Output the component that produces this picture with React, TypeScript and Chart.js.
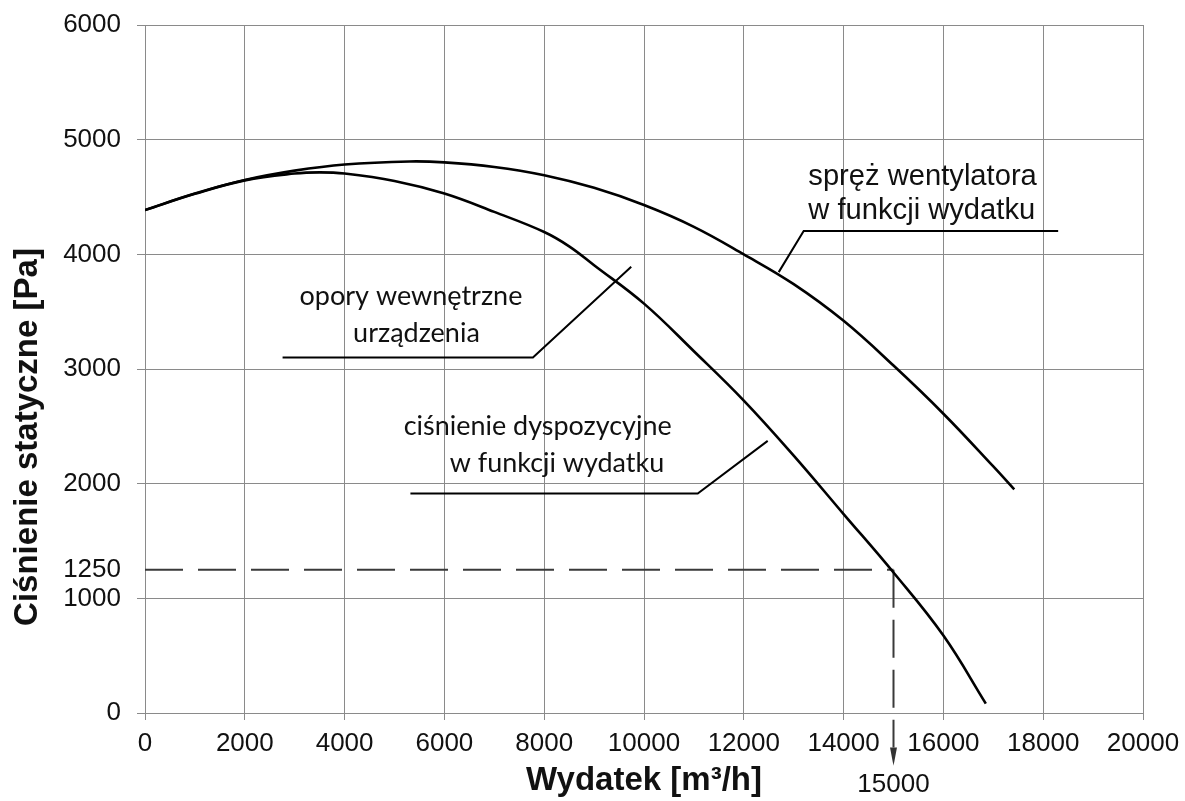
import React, { useEffect, useRef } from "react";
import { Chart, registerables } from "chart.js";
Chart.register(...registerables);

// Fan static pressure vs. flow (spręż wentylatora)
const fanFlow = [0, 1000, 2000, 3000, 4000, 5300, 6000, 7000, 8000, 9000, 10000, 11000, 12000, 13000, 14000, 15000, 16000, 17000, 17420];
const fanPressure = [4386, 4530, 4648, 4730, 4784, 4810, 4802, 4762, 4690, 4580, 4430, 4240, 4000, 3740, 3420, 3030, 2610, 2150, 1950];

// Available pressure vs. flow (ciśnienie dyspozycyjne)
const dispFlow = [0, 1000, 2000, 3000, 3500, 4000, 5000, 6000, 7000, 8000, 8500, 9000, 10000, 11000, 12000, 13000, 14000, 15000, 16000, 16850];
const dispPressure = [4386, 4528, 4645, 4705, 4715, 4705, 4640, 4530, 4370, 4195, 4070, 3905, 3570, 3155, 2725, 2245, 1735, 1225, 675, 82];

// Operating point
const opFlow = 15000;
const opPressure = 1250;

const yTicks = [0, 1000, 1250, 2000, 3000, 4000, 5000, 6000];
const xMin = 0, xMax = 20000, xStep = 2000;

const xTitle = "Wydatek [m³/h]";
const yTitle = "Ciśnienie statyczne [Pa]";

const fanLabel = ["spręż wentylatora", "w funkcji wydatku"];
const oporyLabel = ["opory wewnętrzne", "urządzenia"];
const dispLabel = ["ciśnienie dyspozycyjne", "w funkcji wydatku"];

const TXT = "#111111";
const GRID = "#8a8a8a";
const ARIAL = "'Liberation Sans', Arial, sans-serif";

function fitSize(ctx: CanvasRenderingContext2D, text: string, family: string, weight: string, target: number) {
  ctx.font = `${weight} 20px ${family}`;
  const w = ctx.measureText(text).width;
  return (20 * target) / w;
}

const annotPlugin = {
  id: "annot",
  afterDraw(chart: any) {
    const { ctx, scales } = chart;
    const xs = scales.x, ys = scales.y;
    const X = (v: number) => xs.getPixelForValue(v);
    const Y = (v: number) => ys.getPixelForValue(v);
    ctx.save();

    // arrow head on operating flow
    const ax = X(opFlow);
    ctx.fillStyle = "#333";
    ctx.beginPath();
    ctx.moveTo(ax - 3.5, Y(-300));
    ctx.lineTo(ax + 3.5, Y(-300));
    ctx.lineTo(ax, Y(-460));
    ctx.closePath();
    ctx.fill();

    // operating flow label
    ctx.fillStyle = TXT;
    ctx.font = `26px ${ARIAL}`;
    ctx.textAlign = "center";
    ctx.textBaseline = "middle";
    ctx.fillText(String(opFlow), ax, Y(-630));

    // leader lines
    ctx.strokeStyle = "#000";
    ctx.lineWidth = 2;
    const poly = (pts: number[][]) => {
      ctx.beginPath();
      pts.forEach((p, i) => (i ? ctx.lineTo(X(p[0]), Y(p[1])) : ctx.moveTo(X(p[0]), Y(p[1]))));
      ctx.stroke();
    };
    poly([[18300, 4203], [13200, 4203], [12700, 3845]]);
    poly([[2757, 3101], [7774, 3101], [9744, 3891]]);
    poly([[5319, 1914], [11077, 1914], [12479, 2373]]);

    // fan label (Arial-like)
    let s = fitSize(ctx, fanLabel[1], ARIAL, "normal", 227);
    ctx.font = `normal ${s}px ${ARIAL}`;
    ctx.textAlign = "left";
    ctx.textBaseline = "alphabetic";
    ctx.fillText(fanLabel[0], X(13293), Y(4604));
    ctx.fillText(fanLabel[1], X(13293), Y(4307));

    // Calibri-like labels
    const cal = "Lato, 'Open Sans', sans-serif";
    s = fitSize(ctx, oporyLabel[0], cal, "normal", 223);
    ctx.font = `normal ${s}px ${cal}`;
    ctx.textAlign = "center";
    ctx.fillText(oporyLabel[0], X(5330), Y(3557));
    ctx.fillText(oporyLabel[1], X(5440), Y(3235));

    s = fitSize(ctx, dispLabel[0], cal, "normal", 268);
    ctx.font = `normal ${s}px ${cal}`;
    ctx.textAlign = "left";
    ctx.fillText(dispLabel[0], X(5185), Y(2423));
    ctx.fillText(dispLabel[1], X(6106), Y(2100));

    // y axis title
    ctx.translate(28, 437);
    ctx.rotate(-Math.PI / 2);
    ctx.font = `bold 33px ${ARIAL}`;
    ctx.textAlign = "center";
    ctx.textBaseline = "middle";
    ctx.fillStyle = TXT;
    ctx.fillText(yTitle, 0, 0);
    ctx.restore();
  },
};

export default function App() {
  const ref = useRef<HTMLCanvasElement>(null);
  useEffect(() => {
    if (!ref.current) return;
    const pts = (xs: number[], ys: number[]) => xs.map((x, i) => ({ x, y: ys[i] }));
    const curve = {
      showLine: true,
      borderColor: "#000",
      borderWidth: 2.6,
      pointRadius: 0,
      tension: 0.4,
    };
    const chart = new Chart(ref.current, {
      type: "scatter",
      data: {
        datasets: [
          { label: "spręż wentylatora", data: pts(fanFlow, fanPressure), ...curve },
          { label: "ciśnienie dyspozycyjne", data: pts(dispFlow, dispPressure), ...curve },
          {
            label: "h",
            data: [{ x: 0, y: opPressure }, { x: opFlow, y: opPressure }],
            showLine: true,
            borderColor: "#3a3a3a",
            borderWidth: 2,
            borderDash: [38, 15],
            pointRadius: 0,
          },
          {
            label: "v",
            data: [{ x: opFlow, y: opPressure }, { x: opFlow, y: -300 }],
            showLine: true,
            borderColor: "#3a3a3a",
            borderWidth: 2,
            borderDash: [38, 12],
            pointRadius: 0,
            clip: false as any,
          },
        ],
      },
      options: {
        responsive: false,
        animation: false,
        layout: { padding: { top: 25, right: 42, left: 0, bottom: 0 } },
        plugins: { legend: { display: false }, tooltip: { enabled: false } },
        scales: {
          x: {
            type: "linear",
            min: xMin,
            max: xMax,
            ticks: {
              stepSize: xStep,
              color: TXT,
              font: { family: ARIAL, size: 26 },
              padding: 8,
              maxRotation: 0,
              callback: (v: any) => String(v),
            },
            grid: { color: GRID, lineWidth: 1, tickLength: 7 },
            border: { color: GRID, width: 1 },
            title: {
              display: true,
              text: xTitle,
              color: TXT,
              font: { family: ARIAL, size: 33, weight: "bold" },
              padding: { top: 0, bottom: 0 },
            },
            afterFit: (s: any) => {
              s.height = 88;
              s.paddingLeft = 0;
              s.paddingRight = 0;
            },
          },
          y: {
            type: "linear",
            min: 0,
            max: 6000,
            afterBuildTicks: (s: any) => {
              s.ticks = yTicks.map((v) => ({ value: v }));
            },
            ticks: {
              autoSkip: false,
              color: TXT,
              font: { family: ARIAL, size: 26 },
              padding: 16,
              callback: (v: any) => String(v),
            },
            grid: {
              color: (c: any) => (c.tick && c.tick.value === opPressure ? "rgba(0,0,0,0)" : GRID),
              lineWidth: 1,
              tickLength: 8,
            },
            border: { color: GRID, width: 1 },
            afterFit: (s: any) => {
              s.width = 145;
              s.paddingTop = 0;
              s.paddingBottom = 0;
            },
          },
        },
      },
      plugins: [annotPlugin],
    });
    return () => chart.destroy();
  }, []);
  return (
    <div style={{ position: "fixed", left: 0, top: 0, width: 1185, height: 801, background: "#fff" }}>
      <canvas ref={ref} width={1185} height={801} />
    </div>
  );
}
